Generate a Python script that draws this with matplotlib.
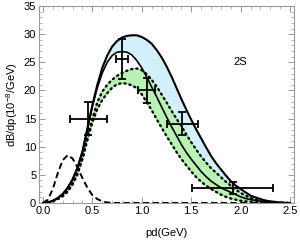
import matplotlib
matplotlib.use("Agg")
import matplotlib.pyplot as plt
from matplotlib.ticker import MultipleLocator, FormatStrFormatter

# ---- data ----
x_grid = [round(0.05 * i, 2) for i in range(51)]
solid_upper = [0, 0.1, 0.4, 0.9, 1.6, 2.7, 4.2, 6.3, 9.2, 13.3, 17.4, 21.0, 24.0,
               26.2, 27.8, 28.8, 29.4, 29.7, 29.8, 29.8, 29.5, 29.0, 28.3, 27.2,
               25.9, 24.3, 22.5, 20.5, 18.5, 16.6, 14.8, 13.1, 11.5, 9.9, 8.4,
               7.1, 6.0, 4.9, 3.9, 3.1, 2.5, 1.9, 1.3, 1.0, 0.7, 0.45, 0.3, 0.2,
               0.1, 0.05, 0.0]
solid_lower = [0, 0.1, 0.4, 0.9, 1.6, 2.7, 4.2, 6.3, 9.1, 13.1, 17.1, 20.5, 23.1,
               25.0, 26.2, 26.8, 26.9, 26.8, 26.3, 25.3, 24.0, 22.4, 20.6, 18.9,
               17.1, 15.3, 13.6, 12.0, 10.4, 9.0, 7.8, 6.7, 5.6, 4.7, 3.9, 3.3,
               2.7, 2.3, 1.9, 1.5, 1.1, 0.8, 0.6, 0.45, 0.3, 0.2, 0.1, 0.05, 0.0,
               0.0, 0.0]
dotted_upper = [0, 0.05, 0.3, 0.7, 1.3, 2.2, 3.5, 5.4, 8.1, 11.6, 15.0, 17.9, 19.8,
                21.0, 21.9, 22.6, 23.1, 23.5, 23.8, 23.9, 23.6, 22.9, 21.9, 20.7,
                19.3, 17.9, 16.4, 15.0, 13.7, 12.2, 10.8, 9.5, 8.3, 7.2, 6.2, 5.4,
                4.6, 3.8, 3.1, 2.4, 1.8, 1.3, 0.9, 0.6, 0.4, 0.25, 0.15, 0.1, 0.05,
                0.0, 0.0]
dotted_lower = [0, 0.05, 0.3, 0.7, 1.2, 2.0, 3.3, 5.1, 7.8, 11.2, 14.3, 16.7, 18.3,
                19.5, 20.5, 21.1, 21.3, 21.2, 20.9, 20.4, 19.3, 17.9, 16.5, 14.9,
                13.4, 11.9, 10.5, 9.1, 7.8, 6.7, 5.6, 4.6, 3.8, 3.1, 2.5, 2.0, 1.5,
                1.1, 0.8, 0.6, 0.4, 0.3, 0.2, 0.15, 0.1, 0.05, 0.0, 0.0, 0.0, 0.0,
                0.0]

x_dash = [0.0, 0.05, 0.1, 0.15, 0.2, 0.25, 0.3, 0.35, 0.4, 0.45, 0.5, 0.55,
          0.6, 0.65, 0.7, 2.5]
dashed = [0.0, 0.6, 2.5, 5.3, 7.6, 8.5, 7.9, 6.3, 4.4, 2.7, 1.4, 0.7,
          0.3, 0.1, 0.0, 0.0]

pts_x = [0.46, 0.80, 1.05, 1.41, 1.92]
pts_y = [15.0, 25.6, 20.0, 14.1, 2.65]
pts_xerr = [0.19, 0.06, 0.085, 0.16, 0.41]
pts_yerr = [3.0, 3.5, 2.2, 2.05, 1.05]

label_text = "2S"
xlabel = "pd(GeV)"
ylabel = r"dB/dp(10$^{-8}$/GeV)"

plt.rcParams['font.family'] = ['Liberation Sans', 'DejaVu Sans']
plt.rcParams['mathtext.fontset'] = 'custom'
plt.rcParams['mathtext.rm'] = 'Liberation Sans'
plt.rcParams['mathtext.it'] = 'Liberation Sans:italic'

fig = plt.figure(figsize=(3.0, 2.45), dpi=100)
ax = fig.add_axes([0.13, 0.1714, 0.85, 0.804])

ax.fill_between(x_grid, solid_lower, solid_upper, color='#d2effc', lw=0, zorder=1)
ax.fill_between(x_grid, dotted_lower, dotted_upper, color='#b9f3b3', lw=0, zorder=2)
ax.plot(x_grid, dotted_upper, color='#9be89a', lw=0.9, zorder=2.5)
ax.plot(x_grid, dotted_lower, color='#9be89a', lw=0.9, zorder=2.5)

ax.plot(x_grid, solid_upper, color='black', lw=1.5, zorder=3)
ax.plot(x_grid, solid_lower, color='black', lw=1.2, zorder=3)
ax.plot(x_grid, dotted_upper, color='black', lw=1.7, ls=(0, (0.5, 1.7)),
        dash_capstyle='round', zorder=3)
ax.plot(x_grid, dotted_lower, color='black', lw=1.7, ls=(0, (0.5, 1.7)),
        dash_capstyle='round', zorder=3)
ax.plot(x_dash, dashed, color='black', lw=1.4, ls=(0, (3.2, 1.8)), zorder=3)

ax.errorbar(pts_x, pts_y, xerr=pts_xerr, yerr=pts_yerr, fmt='none',
            ecolor='black', elinewidth=1.3, capsize=2.6, capthick=1.3, zorder=4)

ax.text(2.0, 25.1, label_text, fontsize=8, ha='center', va='center')

ax.set_xlim(-0.04, 2.54)
ax.set_ylim(0, 35)
ax.xaxis.set_major_locator(MultipleLocator(0.5))
ax.xaxis.set_minor_locator(MultipleLocator(0.1))
ax.yaxis.set_major_locator(MultipleLocator(5))
ax.yaxis.set_minor_locator(MultipleLocator(1))
ax.xaxis.set_major_formatter(FormatStrFormatter('%.1f'))
ax.tick_params(which='both', direction='in', top=True, right=True,
               colors='#999999', labelcolor='black', labelsize=8, pad=2)
ax.tick_params(which='major', length=4, width=0.7)
ax.tick_params(which='minor', length=2, width=0.5)
for s in ax.spines.values():
    s.set_color('#999999')
    s.set_linewidth(0.8)

ax.set_xlabel(xlabel, fontsize=8, labelpad=9)
ax.set_ylabel(ylabel, fontsize=8, labelpad=3)

fig.savefig('out.png', dpi=100)
